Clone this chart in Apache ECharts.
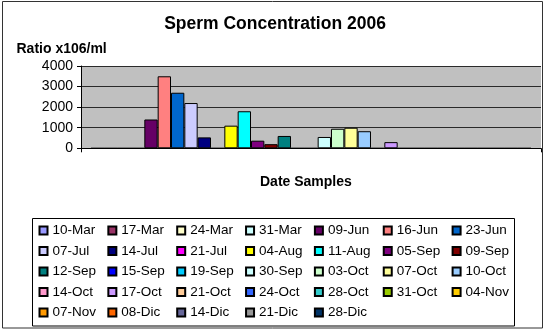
<!DOCTYPE html>
<html>
<head>
<meta charset="utf-8">
<script src="https://cdn.jsdelivr.net/npm/echarts@6/dist/echarts.min.js"></script>
<style>html,body{margin:0;padding:0;background:#fff;}#c{width:550px;height:330px;}</style>
</head>
<body>
<div id="c"></div>
<script>
var titleText = 'Sperm Concentration 2006';
var yAxisTitle = 'Ratio x106/ml';
var xAxisTitle = 'Date Samples';
var categories = ['1'];
var sampleDates = ['10-Mar','17-Mar','24-Mar','31-Mar','09-Jun','16-Jun','23-Jun',
  '07-Jul','14-Jul','21-Jul','04-Aug','11-Aug','05-Sep','09-Sep',
  '12-Sep','15-Sep','19-Sep','30-Sep','03-Oct','07-Oct','10-Oct',
  '14-Oct','17-Oct','21-Oct','24-Oct','28-Oct','31-Oct','04-Nov',
  '07-Nov','08-Dic','14-Dic','21-Dic','28-Dic'];
var concentrations = [0,0,0,0,1400,3500,2700,
  2200,530,0,1100,1800,370,200,
  600,0,0,550,950,1000,830,
  0,300,0,0,0,0,0,
  0,0,0,0,0];
var seriesColors = ['#9999FF','#993366','#FFFFCC','#CCFFFF','#660066','#FF8080','#0066CC',
  '#CCCCFF','#000080','#FF00FF','#FFFF00','#00FFFF','#800080','#800000',
  '#008080','#0000FF','#00CCFF','#CCFFFF','#CCFFCC','#FFFF99','#99CCFF',
  '#FF99CC','#CC99FF','#FFCC99','#3366FF','#33CCCC','#99CC00','#FFCC00',
  '#FF9900','#FF6600','#666699','#969696','#003366'];
var yTicks = {min: 0, max: 4000, interval: 1000};

var FONT = '"Liberation Sans", Arial, sans-serif';
var chart = echarts.init(document.getElementById('c'), null, {renderer: 'canvas'});
var series = sampleDates.map(function (d, i) {
  return {
    name: d,
    type: 'bar',
    data: [concentrations[i]],
    barGap: '0%',
    barCategoryGap: '4.35%',
    itemStyle: {color: seriesColors[i], borderColor: '#000', borderWidth: 1}
  };
});
chart.setOption({
  animation: false,
  backgroundColor: '#fff',
  color: seriesColors,
  title: [
    {text: titleText, left: 'center', top: 15.5, padding: 0,
     textStyle: {fontFamily: FONT, fontSize: 17.5, fontWeight: 'bold', color: '#000'}},
    {text: yAxisTitle, left: 16.5, top: 42.3, padding: 0,
     textStyle: {fontFamily: FONT, fontSize: 14, fontWeight: 'bold', color: '#000'}},
    {text: xAxisTitle, left: 260, top: 174.7, padding: 0,
     textStyle: {fontFamily: FONT, fontSize: 14, fontWeight: 'bold', color: '#000'}}
  ],
  grid: {left: 81, right: 9, top: 66, bottom: 181.7, show: true,
         backgroundColor: '#C0C0C0', borderWidth: 0},
  xAxis: {
    type: 'category', data: categories,
    axisLine: {lineStyle: {color: '#000', width: 1}},
    axisTick: {show: true, length: 4, lineStyle: {color: '#000'}},
    axisLabel: {show: false},
    splitLine: {show: false}
  },
  yAxis: {
    type: 'value', min: yTicks.min, max: yTicks.max, interval: yTicks.interval,
    axisLine: {show: true, lineStyle: {color: '#000', width: 1}},
    axisTick: {show: true, length: 4, lineStyle: {color: '#000'}},
    axisLabel: {fontFamily: FONT, fontSize: 14, color: '#000', margin: 8,
                formatter: function (v) { return String(v); }},
    splitLine: {show: true, lineStyle: {color: '#2a2a2a', width: 1}}
  },
  legend: {
    data: sampleDates,
    left: 38.5, top: 220.25, padding: 0,
    width: 500, itemGap: 0,
    icon: 'rect', itemWidth: 8, itemHeight: 8,
    textStyle: {fontFamily: FONT, fontSize: 13.5, color: '#000', width: 54.85, lineHeight: 20.5}
  },
  graphic: [
    {type: 'rect', shape: {x: 2.5, y: 1.5, width: 540, height: 326.5},
     style: {fill: 'none', stroke: '#333', lineWidth: 1}, silent: true, z: 100},
    {type: 'rect', shape: {x: 32.5, y: 218.5, width: 482, height: 107.5},
     style: {fill: 'none', stroke: '#000', lineWidth: 1}, silent: true, z: 100}
  ],
  series: series
});
</script>
</body>
</html>
